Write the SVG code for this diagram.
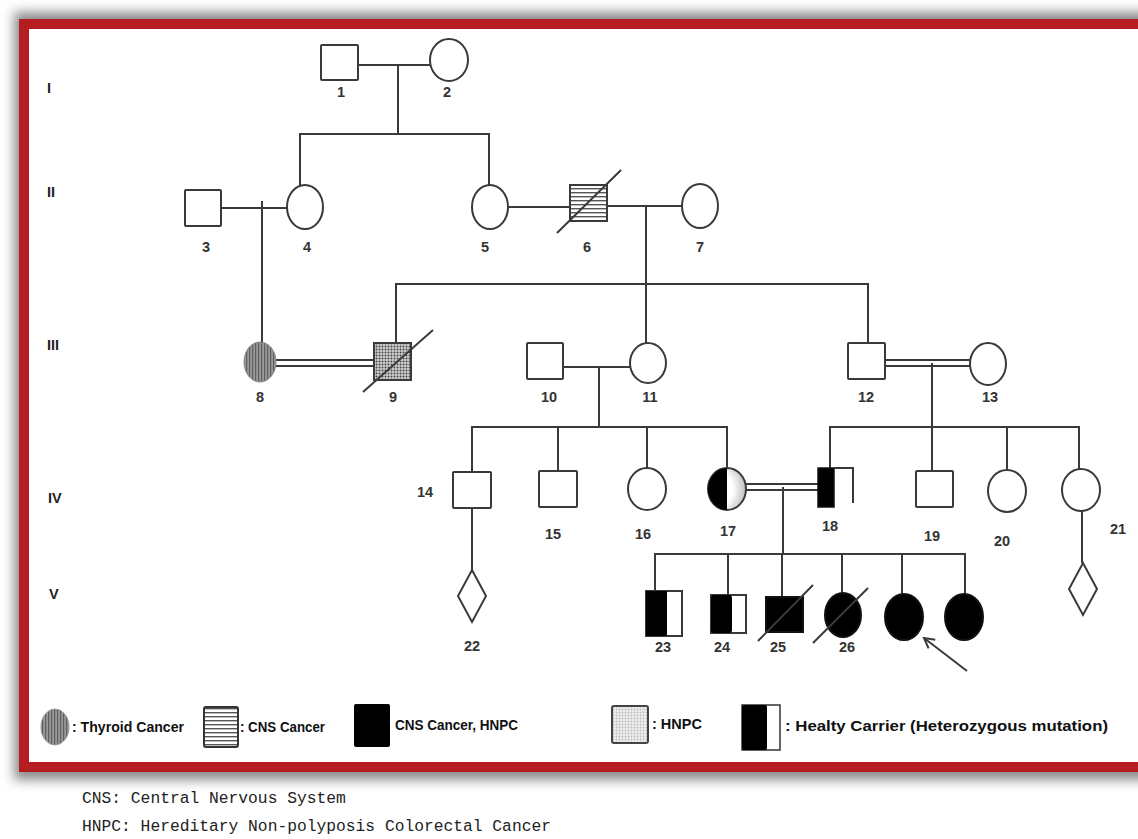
<svg xmlns="http://www.w3.org/2000/svg" width="1138" height="839" viewBox="0 0 1138 839">
<style>
.ln{stroke:#3a3a3a;stroke-width:2;fill:none}
.nd{stroke:#3a3a3a;stroke-width:2;fill:#fff}
.blk{fill:#000;stroke:#111;stroke-width:2}
.lbl{font-family:"Liberation Sans",Arial,sans-serif;font-weight:bold;font-size:14.5px;fill:#333;text-anchor:middle}
.gen{font-family:"Liberation Sans",Arial,sans-serif;font-weight:bold;font-size:14.5px;fill:#222}
.leg{font-family:"Liberation Sans",Arial,sans-serif;font-weight:bold;font-size:14px;fill:#111}
.note{font-family:"Liberation Mono","Courier New",monospace;font-size:16.3px;fill:#222}
</style>
<defs>
<filter id="blur" x="-5%" y="-5%" width="110%" height="110%"><feGaussianBlur stdDeviation="6"/></filter>
<pattern id="vstripe" width="3" height="4" patternUnits="userSpaceOnUse"><rect width="3" height="4" fill="#999"/><rect width="1.2" height="4" fill="#5f5f5f"/></pattern>
<pattern id="hstripe" width="6" height="4" patternUnits="userSpaceOnUse"><rect width="6" height="4" fill="#fff"/><rect width="6" height="1.4" fill="#555"/></pattern>
<pattern id="dots" width="3" height="3" patternUnits="userSpaceOnUse"><rect width="3" height="3" fill="#d0d0d0"/><circle cx="1.5" cy="1.5" r="1" fill="#444"/></pattern>
<pattern id="ldots" width="3" height="3" patternUnits="userSpaceOnUse"><rect width="3" height="3" fill="#eee"/><circle cx="1.5" cy="1.5" r="0.9" fill="#bbb"/></pattern>
<radialGradient id="halfg" cx="0.2" cy="0.5" r="0.9"><stop offset="0.5" stop-color="#fff"/><stop offset="1" stop-color="#aaa"/></radialGradient>
<marker id="arr" markerWidth="14" markerHeight="14" refX="11" refY="7" orient="auto" markerUnits="userSpaceOnUse"><path d="M1 1.5 L11 7 L1 12.5" fill="none" stroke="#3a3a3a" stroke-width="2"/></marker>
</defs>

<!-- frame -->
<g id="frame">
<rect x="14" y="12" width="1140" height="768" fill="#8a8a8a" filter="url(#blur)"/>
<rect x="24" y="24" width="1120" height="743" fill="#fff" stroke="#b51d23" stroke-width="10"/>
</g>

<!-- generation labels -->
<g id="generations">
<text class="gen" x="47" y="93">I</text>
<text class="gen" x="47" y="197">II</text>
<text class="gen" x="47" y="350">III</text>
<text class="gen" x="48" y="503">IV</text>
<text class="gen" x="49" y="599">V</text>
</g>

<g id="connectors">
<!-- gen I -->
<path class="ln" d="M358 65 H430"/>
<path class="ln" d="M398 65 V134"/>
<path class="ln" d="M300 186 V134 H489 V185"/>
<!-- gen II -->
<path class="ln" d="M221 208 H287"/>
<path class="ln" d="M262 201 V343"/>
<path class="ln" d="M508 207 H570"/>
<path class="ln" d="M607 206 H682"/>
<path class="ln" d="M646 206 V343"/>
<path class="ln" d="M396 343 V284 H868 V343"/>
<!-- gen III -->
<path class="ln" d="M276 360 H374 M276 366 H374"/>
<path class="ln" d="M563 367 H630"/>
<path class="ln" d="M599 367 V427"/>
<path class="ln" d="M885 360 H970 M885 366 H970"/>
<path class="ln" d="M932 363 V427"/>
<path class="ln" d="M472 472 V427 H727 V468"/>
<path class="ln" d="M558 427 V471"/>
<path class="ln" d="M647 427 V468"/>
<path class="ln" d="M830 468 V427 H1079 V469"/>
<path class="ln" d="M932 427 V471"/>
<path class="ln" d="M1007 427 V470"/>
<!-- gen IV -->
<path class="ln" d="M746 484 H818 M746 490 H818"/>
<path class="ln" d="M783 487 V554"/>
<path class="ln" d="M472 508 V570"/>
<path class="ln" d="M1082 511 V563"/>
<path class="ln" d="M655 591 V554 H965 V594"/>
<path class="ln" d="M728 554 V595"/>
<path class="ln" d="M782 554 V597"/>
<path class="ln" d="M842 554 V593"/>
<path class="ln" d="M902 554 V594"/>
<!-- proband arrow -->
<path class="ln" d="M967 671 L924 638" marker-end="url(#arr)"/>
</g>

<g id="n1"><rect class="nd" x="321" y="45" width="37" height="35" rx="1"/><text class="lbl" x="341" y="97">1</text></g>
<g id="n2"><ellipse class="nd" cx="449" cy="60" rx="19" ry="21"/><text class="lbl" x="447" y="97">2</text></g>
<g id="n3"><rect class="nd" x="185" y="190" width="36" height="36" rx="1"/><text class="lbl" x="206" y="252">3</text></g>
<g id="n4"><ellipse class="nd" cx="305" cy="207" rx="18" ry="22"/><text class="lbl" x="307" y="252">4</text></g>
<g id="n5"><ellipse class="nd" cx="490" cy="207" rx="18" ry="22"/><text class="lbl" x="485" y="252">5</text></g>
<g id="n6"><rect x="570" y="185" width="37" height="36" fill="url(#hstripe)" stroke="#3a3a3a" stroke-width="2"/><path class="ln" d="M557 233 L621 170"/><text class="lbl" x="587" y="252">6</text></g>
<g id="n7"><ellipse class="nd" cx="700" cy="206" rx="18" ry="22"/><text class="lbl" x="700" y="252">7</text></g>

<g id="n8"><ellipse cx="260" cy="362" rx="16" ry="20" fill="url(#vstripe)" stroke="#888" stroke-width="1"/><text class="lbl" x="260" y="402">8</text></g>
<g id="n9"><rect x="374" y="343" width="37" height="37" fill="url(#dots)" stroke="#3a3a3a" stroke-width="2"/><path class="ln" d="M363 392 L433 330"/><text class="lbl" x="393" y="402">9</text></g>
<g id="n10"><rect class="nd" x="527" y="343" width="36" height="36" rx="1"/><text class="lbl" x="549" y="402">10</text></g>
<g id="n11"><ellipse class="nd" cx="648" cy="363" rx="18" ry="20"/><text class="lbl" x="650" y="402">11</text></g>
<g id="n12"><rect class="nd" x="848" y="343" width="37" height="36" rx="1"/><text class="lbl" x="866" y="402">12</text></g>
<g id="n13"><ellipse class="nd" cx="988" cy="364" rx="18" ry="21"/><text class="lbl" x="990" y="402">13</text></g>

<g id="n14"><rect class="nd" x="453" y="472" width="38" height="36" rx="1"/><text class="lbl" x="425" y="497">14</text></g>
<g id="n15"><rect class="nd" x="539" y="471" width="38" height="36" rx="1"/><text class="lbl" x="553" y="539">15</text></g>
<g id="n16"><ellipse class="nd" cx="647" cy="489" rx="19" ry="21"/><text class="lbl" x="643" y="539">16</text></g>
<g id="n17"><ellipse cx="727" cy="489" rx="19" ry="21" fill="url(#halfg)" stroke="#3a3a3a" stroke-width="2"/><path d="M727 468 A19 21 0 0 0 727 510 Z" fill="#000"/><text class="lbl" x="728" y="536">17</text></g>
<g id="n18"><rect x="818" y="468" width="16" height="39" fill="#000" stroke="#111" stroke-width="1.5"/><path class="ln" d="M834 468 H853 V503"/><text class="lbl" x="830" y="531">18</text></g>
<g id="n19"><rect class="nd" x="916" y="471" width="37" height="36" rx="1"/><text class="lbl" x="932" y="541">19</text></g>
<g id="n20"><ellipse class="nd" cx="1007" cy="491" rx="19" ry="21"/><text class="lbl" x="1002" y="546">20</text></g>
<g id="n21"><ellipse class="nd" cx="1081" cy="490" rx="19" ry="21"/><text class="lbl" x="1118" y="534">21</text></g>

<g id="n22"><path class="nd" d="M472 570 L486 596 L472 622 L458 596 Z"/><text class="lbl" x="472" y="651">22</text></g>
<g id="n21child"><path class="nd" d="M1083 563 L1097 589 L1083 615 L1069 589 Z"/></g>
<g id="n23"><rect class="nd" x="646" y="591" width="36" height="45"/><rect x="646" y="591" width="21" height="45" fill="#000"/><text class="lbl" x="663" y="652">23</text></g>
<g id="n24"><rect class="nd" x="711" y="595" width="35" height="38"/><rect x="711" y="595" width="21" height="38" rx="3" fill="#000"/><text class="lbl" x="722" y="652">24</text></g>
<g id="n25"><rect class="blk" x="766" y="597" width="37" height="35"/><path class="ln" d="M758 641 L813 585"/><text class="lbl" x="778" y="652">25</text></g>
<g id="n26"><ellipse class="blk" cx="843" cy="615" rx="18" ry="22"/><path class="ln" d="M813 643 L868 588"/><text class="lbl" x="847" y="652">26</text></g>
<g id="n27"><ellipse class="blk" cx="904" cy="617" rx="19" ry="23"/></g>
<g id="n28"><ellipse class="blk" cx="964" cy="617" rx="19" ry="23"/></g>

<g id="legend">
<ellipse cx="55" cy="727" rx="14" ry="18" fill="url(#vstripe)" stroke="#999" stroke-width="1"/>
<text class="leg" x="72" y="732" textLength="112" lengthAdjust="spacingAndGlyphs">: Thyroid Cancer</text>
<rect x="204" y="707" width="34" height="40" fill="url(#hstripe)" stroke="#333" stroke-width="2" rx="2"/>
<text class="leg" x="240" y="732" textLength="85" lengthAdjust="spacingAndGlyphs">: CNS Cancer</text>
<rect x="354" y="704" width="36" height="43" fill="#000" rx="2"/>
<text class="leg" x="395" y="730" textLength="123" lengthAdjust="spacingAndGlyphs">CNS Cancer, HNPC</text>
<rect x="612" y="706" width="36" height="37" fill="url(#ldots)" stroke="#444" stroke-width="2" rx="2"/>
<text class="leg" x="652" y="729" textLength="50" lengthAdjust="spacingAndGlyphs">: HNPC</text>
<rect x="742" y="705" width="38" height="45" fill="#fff" stroke="#333" stroke-width="1.5"/>
<rect x="742" y="705" width="25" height="45" fill="#000" rx="2"/>
<text class="leg" x="785" y="731" textLength="323" lengthAdjust="spacingAndGlyphs">: Healty Carrier (Heterozygous mutation)</text>
</g>

<g id="notes">
<text class="note" x="82" y="803">CNS: Central Nervous System</text>
<text class="note" x="82" y="831">HNPC: Hereditary Non-polyposis Colorectal Cancer</text>
</g>
</svg>
